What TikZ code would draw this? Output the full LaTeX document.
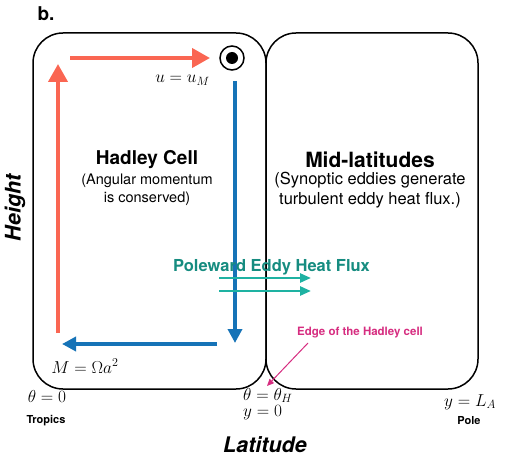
\documentclass[tikz,border=0pt]{standalone}
\usepackage{fontspec}
\setmainfont{TeX Gyre Heros}
\usetikzlibrary{arrows.meta}
\definecolor{hred}{RGB}{250,102,82}
\definecolor{hblue}{RGB}{22,115,183}
\definecolor{tealtxt}{RGB}{22,140,128}
\definecolor{tealarr}{RGB}{30,178,162}
\definecolor{magen}{RGB}{214,45,128}
\tikzset{
  cellbox/.style={draw, line width=1.5pt, rounded corners=30pt, minimum height=356pt, inner sep=0pt},
  redarrow/.style={hred, line width=4pt, -{Triangle[width=19pt,length=18pt]}},
  bluearrow/.style={hblue, line width=4pt, -{Triangle[width=14pt,length=14pt]}},
  tealarrow/.style={tealarr, line width=2.5pt, -{Triangle[width=9pt,length=11pt]}},
  mathlbl/.style={font=\fontsize{17.5}{20}\selectfont, inner sep=0pt},
  biglbl/.style={font=\fontsize{18.5}{21}\selectfont, inner sep=0pt},
  small/.style={font=\fontsize{11}{13}\selectfont\bfseries, inner sep=0pt},
  title/.style={font=\fontsize{19}{22}\selectfont\bfseries, inner sep=0pt},
  sub/.style={font=\fontsize{14.5}{18}\selectfont, align=center, inner sep=0pt},
  axis/.style={font=\fontsize{21.5}{24}\selectfont\bfseries\itshape, inner sep=0pt},
}
\begin{document}
\begin{tikzpicture}[x=1pt,y=-1pt]
\useasboundingbox (0,0) rectangle (506,465);
\node[cellbox, minimum width=233pt] (left) at (149.5,211) {};
\node[cellbox, minimum width=212pt] (right) at (372,211) {};

\node[font=\fontsize{19}{21}\selectfont\bfseries, inner sep=0pt] (b) at (46,14) {b.};

% circulation
\coordinate (r1s) at (58,333);
\coordinate (r1e) at (58,64);
\coordinate (r2s) at (70,58);
\coordinate (r2e) at (210,58);
\node[circle, draw, line width=1.5pt, minimum size=24pt, inner sep=0pt] (dot) at (232,58) {};
\fill (dot.center) circle (6pt);
\coordinate (b1s) at (235,81);
\coordinate (b1e) at (235,343);
\coordinate (b2s) at (217,344);
\coordinate (b2e) at (62,344);
\draw[redarrow] (r1s) -- (r1e);
\draw[redarrow] (r2s) -- (r2e);
\draw[bluearrow] (b1s) -- (b1e);
\draw[bluearrow] (b2s) -- (b2e);

\node[biglbl] (uM) at (182.5,80) {$u=u_M$};
\node[biglbl] (Mom) at (85,366) {$M=\Omega a^2$};

\node[title] (hc) at (147,160) {Hadley Cell};
\node[sub, anchor=north] (hcs) at (147,174) {(Angular momentum\\is conserved)};
\node[title, font=\fontsize{21}{24}\selectfont\bfseries] (ml) at (370,160) {Mid-latitudes};
\node[sub, anchor=north, font=\fontsize{16.5}{20}\selectfont] (mls) at (370,172) {(Synoptic eddies generate\\turbulent eddy heat flux.)};

\node[font=\fontsize{16.5}{19}\selectfont\bfseries, text=tealtxt, inner sep=0pt] (flux) at (271.5,267) {Poleward Eddy Heat Flux};
\coordinate (t1s) at (219,278);
\coordinate (t1e) at (311,278);
\coordinate (t2s) at (219,291);
\coordinate (t2e) at (311,291);
\draw[tealarrow] (t1s) -- (t1e);
\draw[tealarrow] (t2s) -- (t2e);

\node[font=\fontsize{11.5}{13}\selectfont\bfseries, text=magen, inner sep=0pt] (edge) at (360,333) {Edge of the Hadley cell};
\coordinate (e1) at (308,343);
\coordinate (e2) at (267,386);
\draw[magen, line width=1pt, -{Triangle[width=6pt,length=7pt]}] (e1) -- (e2);

\node[mathlbl] (th0) at (47,396) {$\theta=0$};
\node[small] (trop) at (46,421) {Tropics};
\node[mathlbl, anchor=north west, align=left, font=\fontsize{17.5}{16.5}\selectfont] (thH) at (243,388) {$\theta=\theta_H$\\$y=0$};
\node[mathlbl] (yLA) at (470,402) {$y=L_A$};
\node[small] (pole) at (469,421) {Pole};

\node[axis] (lat) at (265,445) {Latitude};
\node[axis, rotate=90] (ht) at (15,208) {Height};
\end{tikzpicture}
\end{document}
